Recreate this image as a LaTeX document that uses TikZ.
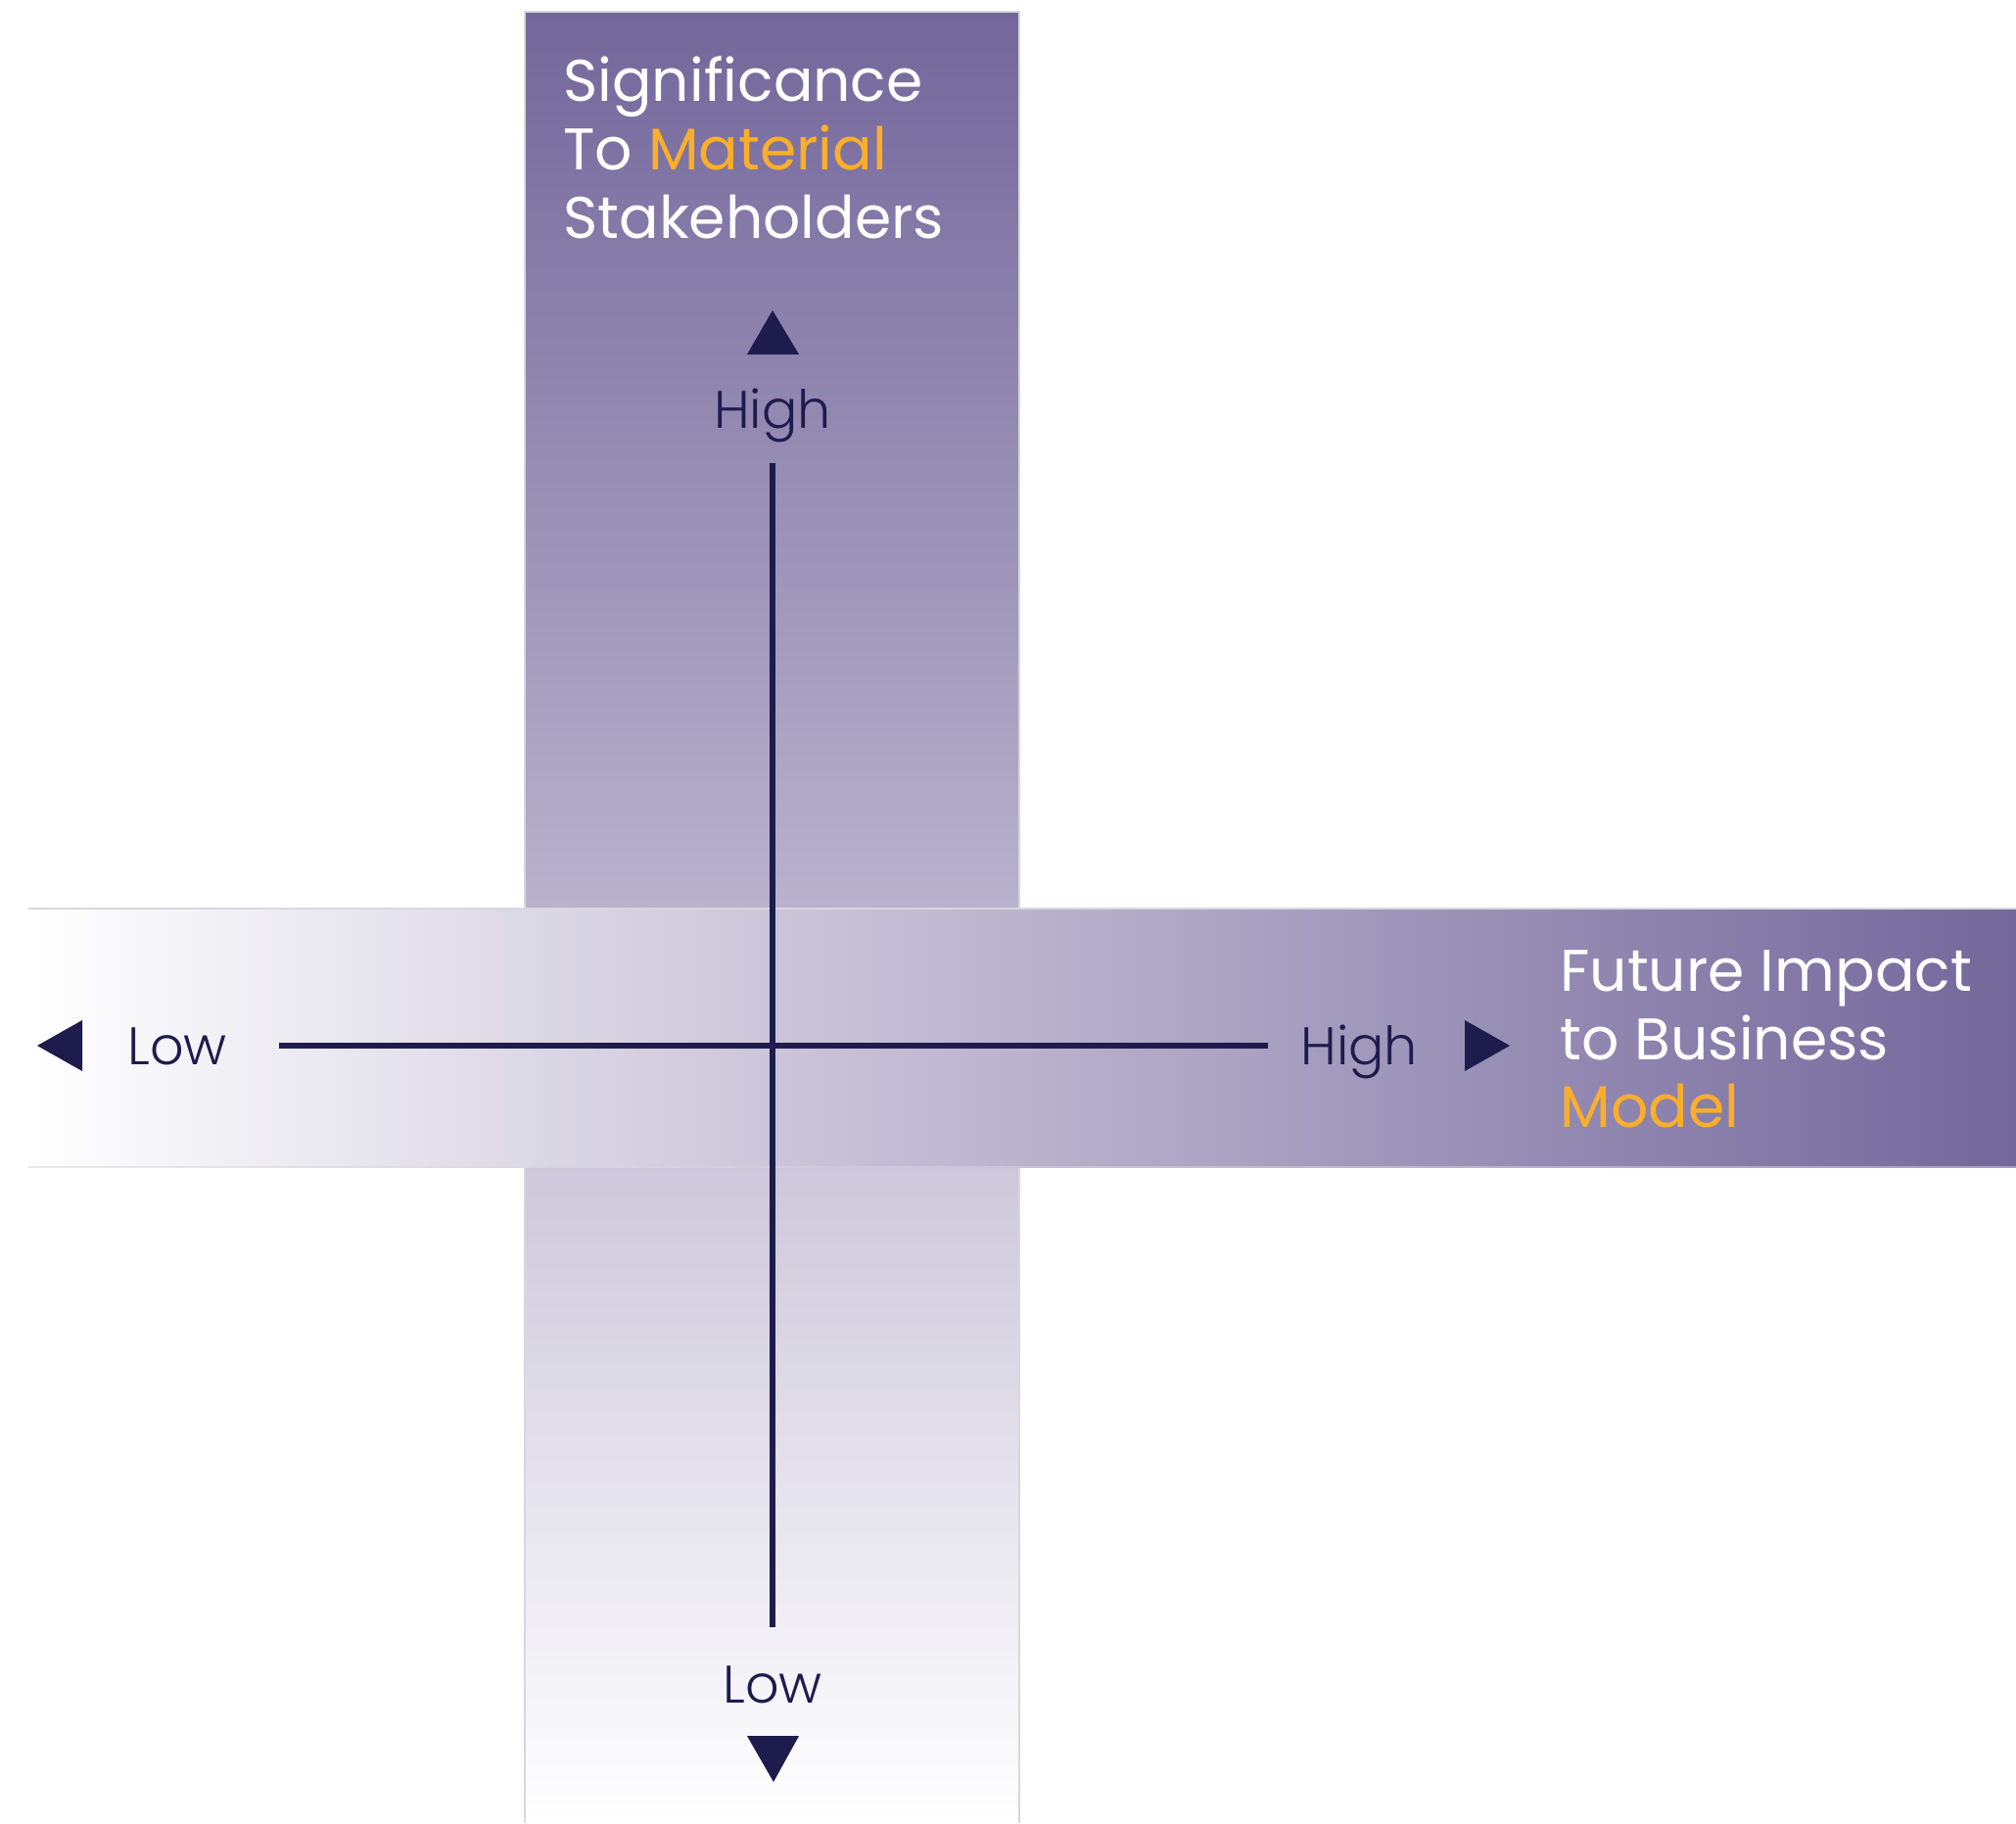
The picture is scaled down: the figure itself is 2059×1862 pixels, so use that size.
\documentclass[tikz,border=0pt]{standalone}
\usepackage{fontspec}
\setmainfont{Poppins}
\newfontfamily\lightfont{Poppins Light}
\definecolor{bandpurple}{RGB}{115,103,155}
\definecolor{navy}{RGB}{30,27,77}
\definecolor{accent}{RGB}{251,174,42}
\definecolor{edgegray}{RGB}{215,215,220}
\tikzset{
  title/.style={text=white, inner sep=0pt, font=\fontsize{30}{35}\selectfont},
  axislabel/.style={text=navy, inner sep=0pt, font=\lightfont\fontsize{27}{32}\selectfont},
  axisline/.style={draw=navy, line width=3pt},
  tri/.style={fill=navy},
  bandedge/.style={draw=edgegray, line width=0.6pt}
}
\begin{document}
\begin{tikzpicture}[x=0.5pt,y=-0.5pt]
\useasboundingbox (0,0) rectangle (2059,1862);
% vertical band
\shade[top color=bandpurple, bottom color=white] (536,12) rectangle (1041,1862);
\draw[bandedge] (536,1862) -- (536,12) -- (1041,12) -- (1041,1862);
% horizontal band
\shade[left color=white, right color=bandpurple] (29,928) rectangle (2059,1192);
\draw[bandedge] (29,928) -- (2059,928);
\draw[bandedge, draw opacity=0.5] (29,1192) -- (2059,1192);
% axes
\coordinate (vtop) at (789,473);
\coordinate (vbot) at (789,1662);
\coordinate (hleft) at (285,1068);
\coordinate (hright) at (1295,1068);
\draw[axisline] (vtop) -- (vbot);
\draw[axisline] (hleft) -- (hright);
% triangles
\fill[tri] (789,317) -- (816,362) -- (763,362) -- cycle;
\fill[tri] (763,1773) -- (816,1773) -- (790,1820) -- cycle;
\fill[tri] (38,1068) -- (84,1042) -- (84,1094) -- cycle;
\fill[tri] (1496,1042) -- (1542,1068) -- (1496,1094) -- cycle;
% axis labels
\node[axislabel, anchor=base] (hightop) at (789,437) {High};
\node[axislabel, anchor=base] (lowbot) at (789,1739) {Low};
\node[axislabel, anchor=base west] (lowleft) at (130,1087) {Low};
\node[axislabel, anchor=base west] (highright) at (1328,1087) {High};
% titles
\node[title, anchor=base west] (s1) at (575,104) {Significance};
\node[title, anchor=base west] (s2) at (575,174) {To \textcolor{accent}{Material}};
\node[title, anchor=base west] (s3) at (575,243) {Stakeholders};
\node[title, anchor=base west] (f1) at (1593,1012) {Future Impact};
\node[title, anchor=base west] (f2) at (1593,1082) {to Business};
\node[title, anchor=base west] (f3) at (1593,1151) {\textcolor{accent}{Model}};
\end{tikzpicture}
\end{document}
